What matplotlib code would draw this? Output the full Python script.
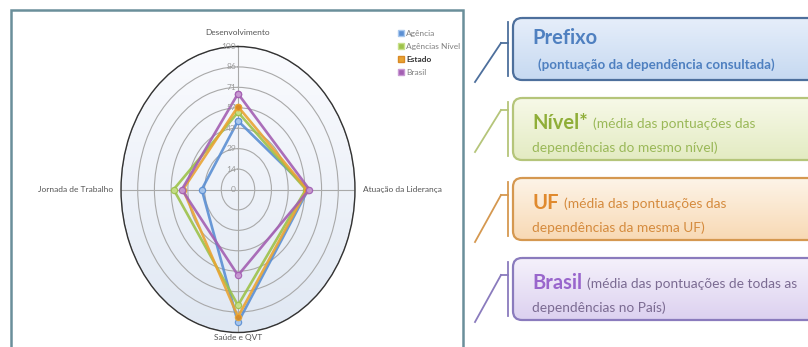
import numpy as np
import matplotlib
matplotlib.use('Agg')
import matplotlib.pyplot as plt
from matplotlib.patches import FancyBboxPatch, Rectangle, Ellipse
from matplotlib.lines import Line2D
from matplotlib.colors import LinearSegmentedColormap

# Radar data
categories = ['Desenvolvimento', 'Atuação da Liderança', 'Saúde e QVT', 'Jornada de Trabalho']
series_names = ['Agência', 'Agências Nível', 'Estado', 'Brasil']
agencia = [48, 60, 93, 31]
agencias_nivel = [54, 58, 81, 55]
estado = [58, 59, 89, 47]
brasil = [67, 61, 60, 48]
ring_labels = ['0', '14', '29', '43', '57', '71', '86', '100']

# Explanation boxes on the right
box_titles = ['Prefixo', 'Nível*', 'UF', 'Brasil']
box_line1 = ['(pontuação da dependência consultada)', '(média das pontuações das',
             '(média das pontuações das', '(média das pontuações de todas as']
box_line2 = ['', 'dependências do mesmo nível)', 'dependências da mesma UF)',
             'dependências no País)']

plt.rcParams['font.family'] = ['Lato', 'DejaVu Sans']

series = [agencia, agencias_nivel, estado, brasil]
line_colors = ['#5b8fd3', '#9dc24a', '#e9a433', '#a35fb2']
marker_faces = ['#a9c8ee', '#c8e08a', '#d98a25', '#c99ad4']

fig = plt.figure(figsize=(8.08, 3.47), dpi=100)
fig.patch.set_facecolor('white')

# pixel-space background axes for frame, gradient and boxes
bg = fig.add_axes([0, 0, 1, 1])
bg.set_xlim(0, 808)
bg.set_ylim(347, 0)
bg.axis('off')

bg.add_patch(Rectangle((11, 10), 452, 360, facecolor='white', edgecolor='#6a8f9a', lw=1.8, zorder=0))

# light gradient inside the radar ellipse
cx, cy, rx, ry = 238, 189.5, 117, 143
grad = np.linspace(0, 1, 200).reshape(-1, 1)
cmap = LinearSegmentedColormap.from_list('g', ['#fafbfe', '#eef2f9', '#e0e8f3'])
im = bg.imshow(grad, cmap=cmap, extent=(cx - rx, cx + rx, cy + ry, cy - ry),
               aspect='auto', origin='upper', zorder=1)
im.set_clip_path(Ellipse((cx, cy), 2 * rx, 2 * ry, transform=bg.transData))
bg.set_xlim(0, 808)
bg.set_ylim(347, 0)

# Right side boxes
box_tops = [18, 98, 178, 258]
box_edges = ['#4d6f9c', '#b5c57a', '#d59850', '#8a7bbd']
box_fills = [('#e6eefa', '#c6d9f1'), ('#f7f9e8', '#e3ebc2'), ('#fdf4e8', '#f8d9b4'), ('#f5f1fb', '#dcd1f0')]
title_colors = ['#4f80c0', '#8fae38', '#e08a2e', '#9966cc']
note_colors = ['#4f80c0', '#9ab858', '#d58b3e', '#7b6b92']
hook_y = [43, 110, 195, 275]
hook_bottom = [82, 152, 242, 322]

renderer = fig.canvas.get_renderer()
for i in range(4):
    top = box_tops[i]
    patch = FancyBboxPatch((513, top), 305, 62, boxstyle='round,pad=0,rounding_size=9',
                           facecolor='none', edgecolor=box_edges[i], lw=1.6, zorder=4)
    bg.add_patch(patch)
    bcmap = LinearSegmentedColormap.from_list('b%d' % i, list(box_fills[i]))
    bim = bg.imshow(grad, cmap=bcmap, extent=(513, 818, top + 62, top), aspect='auto',
                    origin='upper', zorder=3)
    bim.set_clip_path(patch)
    # bracket decoration
    ec = box_edges[i]
    bg.plot([508, 508], [top + 4, top + 58], color=ec, lw=1.3, zorder=4)
    bg.plot([501, 508], [hook_y[i], hook_y[i]], color=ec, lw=1.3, zorder=4)
    bg.plot([475, 501], [hook_bottom[i], hook_y[i]], color=ec, lw=1.3, zorder=4)

    if i == 0:
        bg.text(532, top + 20, box_titles[i], fontsize=14.5, fontweight='bold',
                color=title_colors[i], va='center', ha='left', zorder=5)
        bg.text(538, top + 47, box_line1[i], fontsize=9.6, fontweight='bold',
                color=note_colors[i], va='center', ha='left', zorder=5)
    else:
        t = bg.text(532, top + 25, box_titles[i], fontsize=14.5, fontweight='bold',
                    color=title_colors[i], va='center', ha='left', zorder=5)
        w = t.get_window_extent(renderer=renderer).width
        bg.text(532 + w + 5, top + 26, box_line1[i], fontsize=9.9,
                color=note_colors[i], va='center', ha='left', zorder=5)
        bg.text(532, top + 50, box_line2[i], fontsize=9.9,
                color=note_colors[i], va='center', ha='left', zorder=5)
bg.set_xlim(0, 808)
bg.set_ylim(347, 0)

# Radar chart (polar axes stretched into an ellipse like the original)
ax = fig.add_axes([(cx - rx) / 808, 1 - (cy + ry) / 347, 2 * rx / 808, 2 * ry / 347],
                  projection='polar')
ax.set_aspect('auto')
ax.patch.set_visible(False)
ax.set_theta_zero_location('N')
ax.set_theta_direction(-1)
angles = np.deg2rad([0, 90, 180, 270])
ax.set_ylim(0, 100)
rings = np.linspace(0, 100, len(ring_labels))
ax.set_yticks(rings[1:])
ax.set_yticklabels([])
ax.set_xticks(angles)
ax.set_xticklabels([])
ax.grid(True, color='#a9a9a9', lw=0.8)
ax.spines['polar'].set_color('#333333')
ax.spines['polar'].set_linewidth(1.0)

for r, lab in zip(rings, ring_labels):
    ax.annotate(lab, xy=(0, r), xytext=(-1.5, 0), textcoords='offset points',
                ha='right', va='center', fontsize=6, color='#9a9a9a', zorder=6)

label_pos = [(107, 'center', 'bottom'), (107, 'left', 'center'), (101, 'center', 'top'), (107, 'right', 'center')]
for ang, cat, (r, ha, va) in zip(angles, categories, label_pos):
    ax.text(ang, r, cat, ha=ha, va=va, fontsize=6, color='#555555', clip_on=False)

closed = np.concatenate([angles, angles[:1]])
for vals, name, lc, mf in zip(series, series_names, line_colors, marker_faces):
    v = list(vals) + [vals[0]]
    ax.plot(closed, v, color=lc, lw=1.9, alpha=0.9, marker='o', markersize=4.5,
            markerfacecolor=mf, markeredgecolor=lc, markeredgewidth=0.9,
            label=name, zorder=5, clip_on=False)

handles = [Line2D([0], [0], marker='s', linestyle='none', markersize=5,
                  markerfacecolor=lc, markeredgecolor=mf, markeredgewidth=1.0)
           for lc, mf in zip(line_colors, marker_faces)]
leg = fig.legend(handles, series_names, loc='upper left', bbox_to_anchor=(393 / 808, 1 - 27 / 347),
                 frameon=False, fontsize=6, handletextpad=0.2, labelspacing=0.7,
                 borderaxespad=0, handlelength=1.0)
for txt in leg.get_texts():
    txt.set_color('#808080')
leg.get_texts()[2].set_fontweight('bold')
leg.get_texts()[2].set_color('#333333')

fig.savefig('out.png', dpi=100)
